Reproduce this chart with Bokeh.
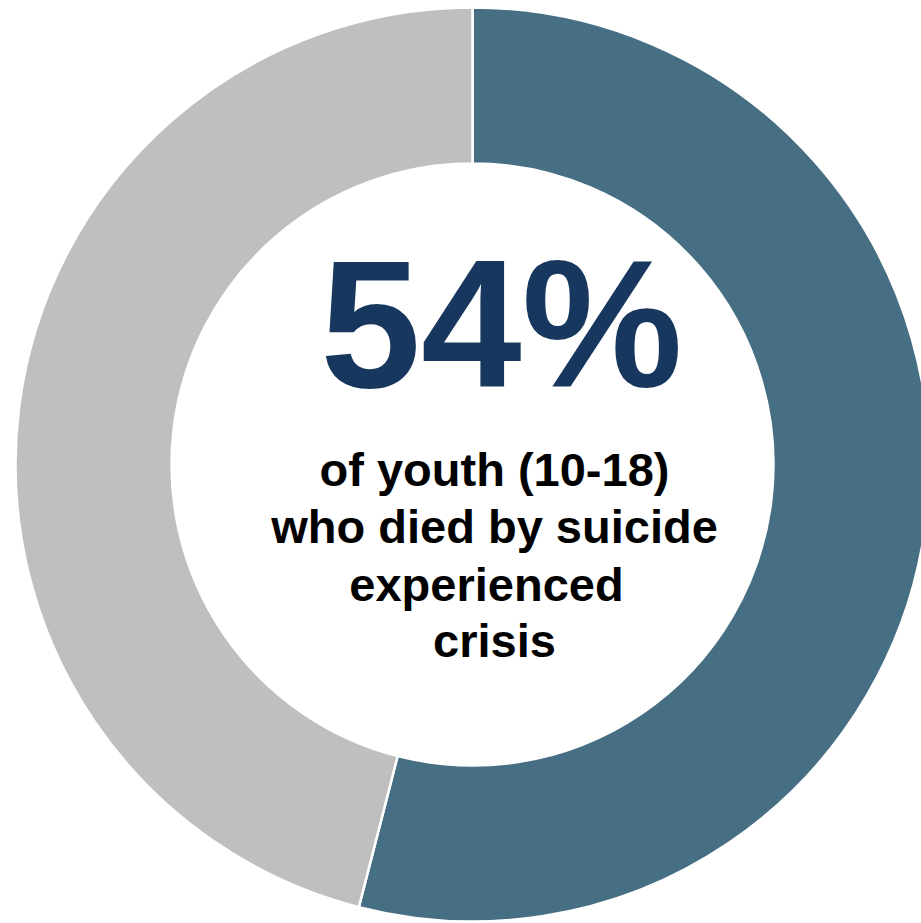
import math
from bokeh.plotting import figure
from bokeh.models import Range1d, ColumnDataSource
from bokeh.core.properties import value
from bokeh.embed import file_html
from bokeh.resources import INLINE

# Data
categories = ["Experienced crisis", "Other"]
shares = [54, 46]
colors = ["#476f84", "#bfbfbf"]
headline = "54%"
body_lines = ["of youth (10-18)", "who died by suicide", "experienced", "crisis"]

W, H = 921, 923
p = figure(width=W, height=H, output_backend="svg", toolbar_location=None,
           x_range=Range1d(0, W), y_range=Range1d(0, H), min_border=0)
p.axis.visible = False
p.grid.visible = False
p.outline_line_color = None
p.background_fill_color = "white"
p.border_fill_color = "white"

cx, cy = 472, H - 464
R_out, R_in = 457, 301

total = sum(shares)
starts, ends = [], []
acc = 0.0
for s in shares:
    a0 = math.pi / 2 - 2 * math.pi * acc / total
    acc += s
    a1 = math.pi / 2 - 2 * math.pi * acc / total
    starts.append(a0)
    ends.append(a1)

src = ColumnDataSource(dict(cat=categories, val=shares, color=colors,
                            start=starts, end=ends,
                            x=[cx] * len(shares), y=[cy] * len(shares)))
p.annular_wedge(x="x", y="y", inner_radius=R_in, outer_radius=R_out,
                start_angle="start", end_angle="end", direction="clock",
                fill_color="color", line_color="white", line_width=2.5, source=src)

p.text(x=[501], y=[H - 323], text=[headline], text_font=value("Liberation Sans"),
       text_font_style="bold", text_font_size="181px", text_color="#17375e",
       text_align="center", text_baseline="alphabetic")

baselines = [469, 526, 584, 640]
xs = [494, 494, 486, 494]
p.text(x=xs, y=[H - b for b in baselines], text=body_lines,
       text_font=value("Liberation Sans"), text_font_style="bold",
       text_font_size="47px", text_color="#000000",
       text_align="center", text_baseline="alphabetic")

open("out.html", "w").write(file_html(p, INLINE))
